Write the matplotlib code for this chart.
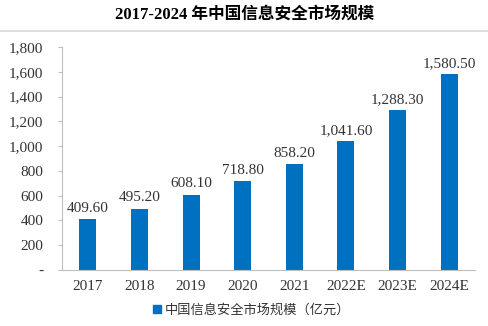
import matplotlib
matplotlib.use("Agg")
import matplotlib.pyplot as plt
from matplotlib.lines import Line2D
from matplotlib.patches import Patch

categories = ["2017", "2018", "2019", "2020", "2021", "2022E", "2023E", "2024E"]
values = [409.60, 495.20, 608.10, 718.80, 858.20, 1041.60, 1288.30, 1580.50]
yticks = [0, 200, 400, 600, 800, 1000, 1200, 1400, 1600, 1800]
ytick_labels = ["-", "200", "400", "600", "800", "1,000", "1,200", "1,400", "1,600", "1,800"]
title = "2017-2024 年中国信息安全市场规模"
legend_label = "中国信息安全市场规模（亿元）"

bar_color = "#0070C0"
serif = ["Liberation Serif", "Noto Sans CJK SC"]
cjk = ["Liberation Serif", "Noto Sans CJK SC"]

W, H = 489, 326
fig = plt.figure(figsize=(W / 100, H / 100), dpi=100)
ax = fig.add_axes([62 / W, 1 - 270 / H, 413 / W, (270 - 47) / H])

x = list(range(len(categories)))
ax.bar(x, values, width=0.33, color=bar_color, zorder=2)
for xi, v in zip(x, values):
    ax.annotate(f"{v:,.2f}", (xi, v), xytext=(0, 3), textcoords="offset points",
                ha="center", va="bottom", fontsize=11, family=serif, color="#333333")

ax.set_xlim(-0.5, len(categories) - 0.5)
ax.set_ylim(0, 1800)
ax.set_yticks(yticks)
ax.set_yticklabels(ytick_labels, family=serif, fontsize=11, color="#333333")
ax.set_xticks(x)
ax.set_xticklabels(categories, family=serif, fontsize=11, color="#333333")
ax.tick_params(axis="y", direction="out", length=3, color="#BFBFBF", pad=10.5)
ax.tick_params(axis="x", length=0, pad=7)
for s in ["top", "right"]:
    ax.spines[s].set_visible(False)
ax.spines["left"].set_color("#BFBFBF")
ax.spines["bottom"].set_color("#BFBFBF")

fig.text(0.5, 1 - 15 / H, title, ha="center", va="center", fontsize=12,
         fontweight="bold", family=["Liberation Serif", "Noto Sans CJK SC"])
fig.add_artist(Line2D([0, 1], [1 - 31 / H, 1 - 31 / H], color="#D9D9D9", lw=1.2,
                      transform=fig.transFigure))

handle = Patch(color=bar_color)
leg = fig.legend([handle], [legend_label], loc="center", bbox_to_anchor=(252 / W, 1 - 310 / H),
                 frameon=False, handlelength=0.6, handleheight=0.6, handletextpad=0.3,
                 prop={"family": cjk, "size": 9.5})
for t in leg.get_texts():
    t.set_color("#333333")

fig.savefig("out.png", dpi=100)
